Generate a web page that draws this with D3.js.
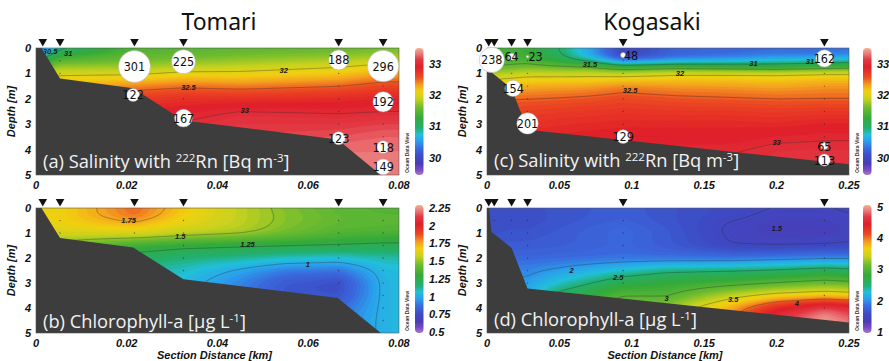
<!DOCTYPE html>
<html><head><meta charset="utf-8">
<script src="https://cdn.jsdelivr.net/npm/d3@7"></script>
<style>
body{margin:0;background:#fff}
svg{display:block}
.ax{font-family:"Liberation Sans",Arial,sans-serif;font-weight:bold;font-style:italic;font-size:11px;fill:#111}
.title{font-family:"Noto Sans",sans-serif;font-size:23px;fill:#111}
.plabel{font-family:"Open Sans","Noto Sans",sans-serif;font-size:18.3px;fill:#f2f2f2}
.rn{font-family:"Liberation Sans Narrow","DejaVu Sans Condensed",sans-serif;font-size:12.5px;fill:#111}
.clab{font-family:"Liberation Sans",Arial,sans-serif;font-weight:bold;font-style:italic;font-size:7.5px;fill:#1a1a1a}
.odv{font-family:"Liberation Sans",Arial,sans-serif;font-weight:bold;font-size:5px;fill:#333}
</style></head><body>
<svg id="chart" width="889" height="361"></svg>
<script>
// sample depths of the gridded profiles [m]
const depths = [0, 0.25, 0.5, 0.75, 1, 1.5, 2, 2.5, 3, 3.5, 4, 4.5, 5];

// ---- Tomari ----
const tomariStations = [0.0015, 0.0053, 0.0217, 0.0325, 0.0667, 0.0765];
const tomariBathy = [[0, 0], [0.0012, 0], [0.0053, 1.2], [0.0214, 1.58], [0.0325, 2.85], [0.0665, 3.6], [0.076, 5]];
const tomariSalX = [0, 0.0053, 0.0217, 0.0325, 0.045, 0.0667, 0.0765, 0.08];
const tomariSal = [
  [30.2, 30.6, 31.0, 31.5, 31.9, 32.3, 32.6, 32.8, 32.9, 33.0, 33.0, 33.0, 33.0],
  [30.9, 31.2, 31.5, 31.75, 31.95, 32.25, 32.55, 32.8, 32.9, 33.0, 33.0, 33.0, 33.0],
  [31.4, 31.5, 31.6, 31.75, 31.95, 32.4, 32.68, 32.85, 32.95, 33.0, 33.05, 33.1, 33.1],
  [31.45, 31.55, 31.65, 31.85, 32.05, 32.47, 32.75, 32.92, 33.02, 33.1, 33.15, 33.2, 33.2],
  [31.5, 31.6, 31.72, 31.88, 32.05, 32.42, 32.75, 33.02, 33.1, 33.15, 33.2, 33.2, 33.2],
  [31.55, 31.65, 31.8, 32.0, 32.15, 32.5, 32.8, 32.98, 33.1, 33.2, 33.3, 33.3, 33.3],
  [31.6, 31.7, 31.9, 32.1, 32.3, 32.6, 32.85, 33.0, 33.15, 33.25, 33.3, 33.3, 33.3],
  [31.6, 31.7, 31.9, 32.1, 32.3, 32.6, 32.85, 33.0, 33.15, 33.25, 33.3, 33.3, 33.3]
];
const tomariChlX = [0, 0.0053, 0.0217, 0.0325, 0.045, 0.055, 0.0667, 0.0765, 0.08];
const tomariChl = [
  [1.65, 1.66, 1.66, 1.64, 1.6, 1.45, 1.3, 1.2, 1.15, 1.1, 1.1, 1.1, 1.1],
  [1.66, 1.67, 1.67, 1.65, 1.6, 1.45, 1.3, 1.2, 1.15, 1.1, 1.1, 1.1, 1.1],
  [1.84, 1.84, 1.77, 1.7, 1.62, 1.32, 1.2, 1.12, 1.08, 1.05, 1.05, 1.05, 1.05],
  [1.7, 1.68, 1.66, 1.62, 1.56, 1.28, 1.15, 1.08, 1.04, 1.02, 1.02, 1.02, 1.02],
  [1.56, 1.56, 1.56, 1.55, 1.52, 1.26, 1.12, 0.98, 0.92, 0.9, 0.9, 0.9, 0.9],
  [1.47, 1.48, 1.48, 1.47, 1.45, 1.25, 1.08, 0.9, 0.8, 0.8, 0.84, 0.86, 0.86],
  [1.4, 1.41, 1.42, 1.4, 1.38, 1.24, 1.06, 0.88, 0.76, 0.78, 0.86, 0.9, 0.9],
  [1.38, 1.39, 1.4, 1.39, 1.36, 1.22, 1.1, 1.04, 1.02, 1.02, 1.02, 1.02, 1.02],
  [1.38, 1.39, 1.4, 1.39, 1.36, 1.22, 1.1, 1.05, 1.04, 1.04, 1.04, 1.04, 1.04]
];
// 222Rn [Bq m-3]: distance, depth, value
const tomariRn = [
  [0.0217, 0.73, 301], [0.0325, 0.54, 225], [0.0667, 0.47, 188], [0.0765, 0.71, 296],
  [0.0214, 1.85, 122], [0.0325, 2.76, 167], [0.0765, 2.12, 192], [0.0667, 3.55, 123],
  [0.0765, 3.9, 118], [0.0765, 4.68, 149]
];
const tomariSalLevels = [30.5, 31, 32, 32.5, 33];
const tomariSalLabels = [[0.0031, 0.13, "30.5"], [0.0071, 0.22, "31"], [0.0546, 0.87, "32"], [0.0336, 1.56, "32.5"], [0.046, 2.44, "33"]];
const tomariChlLevels = [1, 1.25, 1.5, 1.75];
const tomariChlLabels = [[0.0204, 0.48, "1.75"], [0.0318, 1.12, "1.5"], [0.0466, 1.45, "1.25"], [0.0599, 2.25, "1"]];

// ---- Kogasaki ----
const kogaStations = [0.0012, 0.005, 0.017, 0.028, 0.094, 0.233];
const kogaBathy = [[0, 0], [0.0015, 0], [0.003, 0.95], [0.017, 1.6], [0.028, 3.22], [0.25, 4.58]];
const kogaSalX = [0, 0.003, 0.017, 0.028, 0.05, 0.07, 0.094, 0.13, 0.17, 0.2, 0.233, 0.25];
const kogaSal = [
  [31.3, 31.3, 31.35, 31.5, 31.8, 32.2, 32.45, 32.6, 32.7, 32.8, 32.85, 32.9, 32.9],
  [31.3, 31.3, 31.35, 31.5, 31.8, 32.2, 32.45, 32.6, 32.7, 32.8, 32.85, 32.9, 32.9],
  [31.35, 31.35, 31.4, 31.55, 31.85, 32.25, 32.5, 32.62, 32.72, 32.8, 32.85, 32.9, 32.9],
  [31.3, 31.3, 31.4, 31.6, 31.9, 32.28, 32.5, 32.65, 32.75, 32.82, 32.88, 32.92, 32.95],
  [31.0, 31.0, 31.2, 31.55, 31.9, 32.3, 32.52, 32.68, 32.78, 32.86, 32.92, 32.96, 33.0],
  [30.6, 30.55, 30.9, 31.55, 31.9, 32.32, 32.55, 32.7, 32.8, 32.88, 32.94, 32.98, 33.0],
  [30.0, 29.9, 30.3, 31.3, 31.88, 32.4, 32.6, 32.72, 32.82, 32.9, 32.96, 33.0, 33.0],
  [30.25, 30.2, 30.5, 31.4, 31.98, 32.35, 32.55, 32.7, 32.82, 32.9, 32.96, 33.02, 33.05],
  [30.3, 30.25, 30.6, 31.3, 32.0, 32.33, 32.52, 32.7, 32.82, 32.9, 32.98, 33.05, 33.05],
  [30.3, 30.3, 30.75, 31.2, 32.0, 32.3, 32.5, 32.68, 32.8, 32.95, 33.05, 33.05, 33.05],
  [30.3, 30.3, 30.8, 31.3, 32.05, 32.35, 32.5, 32.7, 32.85, 32.98, 33.05, 33.08, 33.08],
  [30.35, 30.35, 30.85, 31.35, 32.05, 32.35, 32.5, 32.7, 32.85, 32.98, 33.05, 33.08, 33.08]
];
const kogaChlX = [0, 0.003, 0.017, 0.028, 0.05, 0.094, 0.124, 0.17, 0.2, 0.233, 0.25];
const kogaChl = [
  [1.6, 1.6, 1.6, 1.6, 1.62, 1.7, 1.8, 2.0, 2.1, 2.2, 2.3, 2.3, 2.3],
  [1.6, 1.6, 1.6, 1.6, 1.62, 1.7, 1.8, 2.0, 2.1, 2.2, 2.3, 2.3, 2.3],
  [1.6, 1.6, 1.6, 1.62, 1.65, 1.7, 1.8, 1.95, 2.05, 2.1, 2.2, 2.2, 2.2],
  [1.62, 1.6, 1.6, 1.62, 1.65, 1.7, 1.8, 1.95, 2.05, 2.2, 2.3, 2.3, 2.3],
  [1.65, 1.65, 1.65, 1.68, 1.7, 1.72, 1.82, 2.05, 2.3, 2.6, 2.8, 2.8, 2.8],
  [1.72, 1.72, 1.74, 1.8, 1.82, 1.8, 1.85, 2.3, 2.7, 3.0, 3.2, 3.3, 3.3],
  [1.65, 1.65, 1.65, 1.68, 1.7, 1.7, 1.85, 2.45, 2.8, 2.98, 3.25, 3.4, 3.4],
  [1.55, 1.55, 1.5, 1.46, 1.46, 1.5, 1.85, 2.5, 2.9, 3.4, 3.85, 4.05, 4.05],
  [1.5, 1.46, 1.42, 1.4, 1.4, 1.48, 1.9, 2.55, 3.0, 3.6, 4.4, 4.65, 4.65],
  [1.5, 1.46, 1.42, 1.4, 1.4, 1.5, 1.95, 2.65, 3.1, 3.7, 4.75, 5.0, 5.0],
  [1.52, 1.5, 1.46, 1.44, 1.44, 1.52, 1.95, 2.6, 3.05, 3.65, 4.6, 4.85, 4.85]
];
const kogaRn = [
  [0.0033, 0.47, 238], [0.017, 0.34, 64], [0.028, 0.34, 23], [0.094, 0.28, 48], [0.233, 0.41, 162],
  [0.018, 1.59, 154], [0.028, 2.97, 201], [0.094, 3.49, 129], [0.233, 3.86, 65], [0.233, 4.41, 113]
];
const kogaSalLevels = [31, 31.5, 32, 32.5, 33];
const kogaSalLabels = [[0.0711, 0.66, "31.5"], [0.1333, 1.01, "32"], [0.184, 0.59, "31"], [0.223, 0.53, "31"], [0.0988, 1.67, "32.5"], [0.2, 3.72, "33"]];
const kogaChlLevels = [1.5, 2, 2.5, 3, 3.5, 4];
const kogaChlLabels = [[0.0585, 2.49, "2"], [0.0907, 2.78, "2.5"], [0.124, 3.63, "3"], [0.17, 3.65, "3.5"], [0.214, 3.83, "4"], [0.2, 0.82, "1.5"]];

// ticks
const depthTicks = [0, 1, 2, 3, 4, 5];
const tomariXTicks = [0, 0.02, 0.04, 0.06, 0.08];
const kogaXTicks = [0, 0.05, 0.1, 0.15, 0.2, 0.25];
const salBarTicks = [30, 31, 32, 33];
const tomariChlBarTicks = [0.5, 0.75, 1, 1.25, 1.5, 1.75, 2, 2.25];
const kogaChlBarTicks = [1, 2, 3, 4, 5];

// ODV-like colour palette
const palStops = [0, 0.04, 0.09, 0.15, 0.21, 0.27, 0.32, 0.37, 0.45, 0.53, 0.6, 0.66, 0.71, 0.77, 0.85, 0.91, 0.96, 1];
const palColors = ["#a878d4", "#7a4cc4", "#4a3cb8", "#3c4cc4", "#3a6ade", "#2aa2ec", "#22c0d8", "#22b070", "#34aa3a", "#6cbb30",
  "#c8d21e", "#f2d010", "#f4a020", "#ec4a22", "#e01e2a", "#e23a44", "#ec8080", "#f2b08e"];
const palette = d3.scaleLinear().domain(palStops).range(palColors).clamp(true);

const svg = d3.select("#chart");
const defs = svg.append("defs");
const rScale = d3.scaleLinear().domain([0, 301]).range([0, 16]);

function sampleField(cols, grid, xv, dv) {
  const i = Math.max(0, Math.min(cols.length - 2, d3.bisectRight(cols, xv) - 1));
  const j = Math.max(0, Math.min(depths.length - 2, d3.bisectRight(depths, dv) - 1));
  const tx = Math.max(0, Math.min(1, (xv - cols[i]) / (cols[i + 1] - cols[i])));
  const ty = Math.max(0, Math.min(1, (dv - depths[j]) / (depths[j + 1] - depths[j])));
  const a = grid[i][j], b = grid[i][j + 1], c = grid[i + 1][j], e = grid[i + 1][j + 1];
  return (a * (1 - ty) + b * ty) * (1 - tx) + (c * (1 - ty) + e * ty) * tx;
}

function bottomAt(bathy, xv) {
  for (let k = 0; k < bathy.length - 1; k++) {
    const [x0, d0] = bathy[k], [x1, d1] = bathy[k + 1];
    if (xv >= x0 && xv <= x1) return x1 === x0 ? d1 : d0 + (d1 - d0) * (xv - x0) / (x1 - x0);
  }
  return bathy[bathy.length - 1][1];
}

function drawPanel(p) {
  const x = d3.scaleLinear().domain(p.xDomain).range([p.left, p.right]);
  const y = d3.scaleLinear().domain([0, 5]).range([p.top, p.bottom]);
  const cb = d3.scaleLinear().domain(p.cbDomain).range([0, 1]);
  const W = p.right - p.left, H = p.bottom - p.top;
  const g = svg.append("g");
  const clipId = "clip-" + p.id;
  defs.append("clipPath").attr("id", clipId).append("rect")
    .attr("x", p.left).attr("y", p.top).attr("width", W).attr("height", H);

  // gridded field, one cell per pixel
  const pad = 3;
  const nx = Math.round(W) + 2 * pad, ny = Math.round(H) + 2 * pad;
  const values = new Float64Array(nx * ny);
  for (let j = 0; j < ny; j++) {
    const d = y.invert(p.top - pad + j + 0.5);
    for (let i = 0; i < nx; i++) {
      values[j * nx + i] = sampleField(p.cols, p.field, x.invert(p.left - pad + i + 0.5), d);
    }
  }
  if (d3.blur2) d3.blur2({data: values, width: nx, height: ny}, 3);

  const [lo, hi] = p.cbDomain;
  const nLev = 80, step = (hi - lo) / nLev;
  const fillLevels = d3.range(nLev).map(k => lo + k * step);

  const field = g.append("g").attr("clip-path", `url(#${clipId})`);
  field.append("rect").attr("x", p.left).attr("y", p.top).attr("width", W).attr("height", H)
    .attr("fill", palette(0));
  const fg = field.append("g").attr("transform", `translate(${p.left - pad},${p.top - pad})`);
  const path = d3.geoPath();
  fg.append("g").selectAll("path")
    .data(d3.contours().size([nx, ny]).thresholds(fillLevels)(values))
    .join("path")
    .attr("d", path)
    .attr("fill", d => palette(cb(d.value + step / 2)))
    .attr("stroke", d => palette(cb(d.value + step / 2)))
    .attr("stroke-width", 0.6);

  fg.append("g").selectAll("path")
    .data(d3.contours().size([nx, ny]).thresholds(p.levels)(values))
    .join("path")
    .attr("d", path)
    .attr("fill", "none")
    .attr("stroke", "#2a2a2a")
    .attr("stroke-opacity", 0.6)
    .attr("stroke-width", 0.6);

  // sample points
  const pts = [];
  p.stations.forEach(s => {
    const bot = bottomAt(p.bathy, s);
    d3.range(0.5, 5, 0.5).forEach(d => { if (d < bot - 0.15) pts.push([s, d]); });
  });
  field.append("g").selectAll("circle").data(pts).join("circle")
    .attr("cx", d => x(d[0])).attr("cy", d => y(d[1])).attr("r", 0.7)
    .attr("fill", "#222").attr("opacity", 0.55);

  // contour labels
  field.append("g").selectAll("text").data(p.labels).join("text")
    .attr("class", "clab")
    .attr("x", d => x(d[0])).attr("y", d => y(d[1]))
    .attr("dy", "0.35em").attr("text-anchor", "middle")
    .text(d => d[2]);

  // bathymetry
  const poly = p.bathy.concat([[p.xDomain[1], p.bathy[p.bathy.length - 1][1]], [p.xDomain[1], 5.3], [p.xDomain[0], 5.3]]);
  field.append("path").datum(poly)
    .attr("d", d3.line().x(d => x(d[0])).y(d => y(d[1])))
    .attr("fill", "#3d3d3d");

  g.append("rect").attr("x", p.left).attr("y", p.top).attr("width", W).attr("height", H)
    .attr("fill", "none").attr("stroke", "#555").attr("stroke-width", 0.6);

  // station triangles
  g.append("g").selectAll("path").data(p.stations).join("path")
    .attr("d", s => `M${x(s) - 4.3},${p.top - 9}L${x(s) + 4.3},${p.top - 9}L${x(s)},${p.top - 1.5}Z`)
    .attr("fill", "#111");

  // radon circles
  if (p.rn) {
    const rg = g.append("g");
    rg.selectAll("circle").data(p.rn).join("circle")
      .attr("cx", d => x(d[0])).attr("cy", d => y(d[1])).attr("r", d => rScale(d[2]))
      .attr("fill", "#fff").attr("stroke", "#aaa").attr("stroke-width", 0.5);
    rg.selectAll("text").data(p.rn).join("text")
      .attr("class", "rn")
      .attr("x", d => x(d[0]) + (d[2] < 60 ? 8 : 0)).attr("y", d => y(d[1]))
      .attr("dy", "0.36em").attr("text-anchor", "middle")
      .text(d => d[2]);
  }

  // axes
  g.append("g").selectAll("text").data(depthTicks).join("text")
    .attr("class", "ax").attr("x", p.left - 5).attr("y", d => y(d))
    .attr("dy", "0.36em").attr("text-anchor", "end").text(d => d);
  g.append("g").selectAll("text").data(p.xTicks).join("text")
    .attr("class", "ax").attr("x", d => x(d)).attr("y", p.bottom + 14)
    .attr("text-anchor", "middle").text(d => String(d));
  g.append("text").attr("class", "ax")
    .attr("transform", `translate(${p.left - 21},${(p.top + p.bottom) / 2}) rotate(-90)`)
    .attr("text-anchor", "middle").text("Depth [m]");
  if (p.xTitle) {
    g.append("text").attr("class", "ax").attr("x", (p.left + p.right) / 2 - 3).attr("y", 359)
      .attr("text-anchor", "middle").text("Section Distance [km]");
  }

  // colour bar
  const gradId = "grad-" + p.id;
  const grad = defs.append("linearGradient").attr("id", gradId)
    .attr("x1", 0).attr("y1", 1).attr("x2", 0).attr("y2", 0);
  grad.selectAll("stop").data(palStops).join("stop")
    .attr("offset", d => d).attr("stop-color", (d, k) => palColors[k]);
  const cbY = d3.scaleLinear().domain(p.cbDomain).range([p.cbBottom, p.cbTop]);
  g.append("rect").attr("x", p.cbX).attr("y", p.cbTop).attr("width", 8.5).attr("height", p.cbBottom - p.cbTop)
    .attr("rx", 4).attr("fill", `url(#${gradId})`);
  g.append("g").selectAll("text").data(p.cbTicks).join("text")
    .attr("class", "ax").attr("x", p.cbX + 14).attr("y", d => cbY(d))
    .attr("dy", "0.36em").text(d => d);
  g.append("text").attr("class", "odv")
    .attr("transform", `translate(${p.right + 10},${p.bottom - 2}) rotate(-90)`)
    .text("Ocean Data View");

  // panel caption
  const cap = g.append("text").attr("class", "plabel").attr("x", p.left + 7).attr("y", p.captionY);
  p.caption(cap);
}

function salCaption(letter) {
  return cap => {
    cap.append("tspan").text(`(${letter}) Salinity with `);
    cap.append("tspan").attr("font-size", "11.5px").attr("dy", -6.5).text("222");
    cap.append("tspan").attr("dy", 6.5).text("Rn [Bq m");
    cap.append("tspan").attr("font-size", "11.5px").attr("dy", -6.5).text("-3");
    cap.append("tspan").attr("dy", 6.5).text("]");
  };
}
function chlCaption(letter) {
  return cap => {
    cap.append("tspan").text(`(${letter}) Chlorophyll-a [µg L`);
    cap.append("tspan").attr("font-size", "11.5px").attr("dy", -6.5).text("-1");
    cap.append("tspan").attr("dy", 6.5).text("]");
  };
}

const tomariBase = {xDomain: [0, 0.08], left: 36, right: 399, stations: tomariStations, bathy: tomariBathy, xTicks: tomariXTicks, cbX: 415};
const kogaBase = {xDomain: [0, 0.25], left: 487, right: 849, stations: kogaStations, bathy: kogaBathy, xTicks: kogaXTicks, cbX: 863};

drawPanel({...tomariBase, id: "a", top: 48, bottom: 175, cols: tomariSalX, field: tomariSal, cbDomain: [29.45, 33.5],
  levels: tomariSalLevels, labels: tomariSalLabels, rn: tomariRn, cbTop: 48, cbBottom: 175, cbTicks: salBarTicks,
  captionY: 168, caption: salCaption("a")});
drawPanel({...tomariBase, id: "b", top: 208, bottom: 333, cols: tomariChlX, field: tomariChl, cbDomain: [0.49, 2.29],
  levels: tomariChlLevels, labels: tomariChlLabels, cbTop: 205, cbBottom: 333, cbTicks: tomariChlBarTicks,
  captionY: 328, caption: chlCaption("b"), xTitle: true});
drawPanel({...kogaBase, id: "c", top: 48, bottom: 175, cols: kogaSalX, field: kogaSal, cbDomain: [29.45, 33.5],
  levels: kogaSalLevels, labels: kogaSalLabels, rn: kogaRn, cbTop: 48, cbBottom: 175, cbTicks: salBarTicks,
  captionY: 167, caption: salCaption("c")});
drawPanel({...kogaBase, id: "d", top: 208, bottom: 333, cols: kogaChlX, field: kogaChl, cbDomain: [0.97, 5.05],
  levels: kogaChlLevels, labels: kogaChlLabels, cbTop: 205, cbBottom: 333, cbTicks: kogaChlBarTicks,
  captionY: 326, caption: chlCaption("d"), xTitle: true});

svg.append("text").attr("class", "title").attr("x", 219).attr("y", 30).attr("text-anchor", "middle").text("Tomari");
svg.append("text").attr("class", "title").attr("x", 652).attr("y", 30).attr("text-anchor", "middle").text("Kogasaki");
</script>
</body></html>
